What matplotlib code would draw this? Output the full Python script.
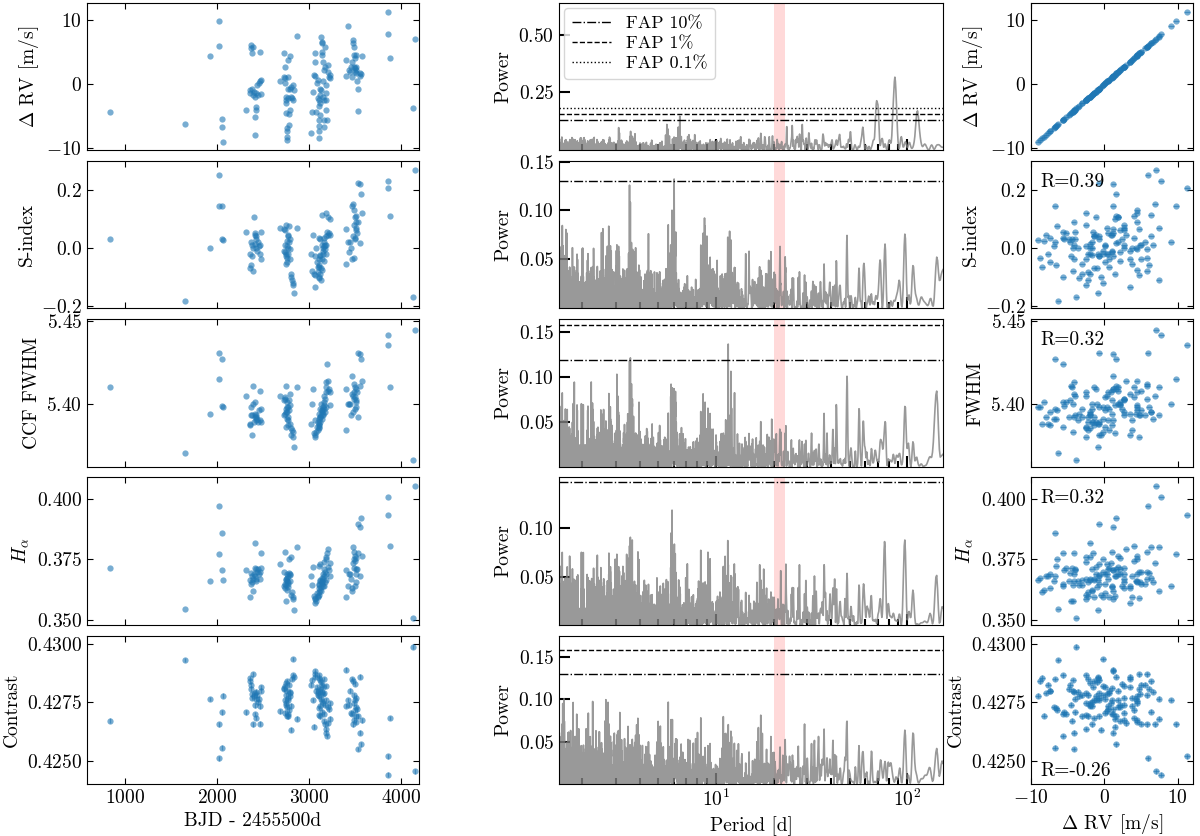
import numpy as np
import matplotlib
matplotlib.use("Agg")
import matplotlib.pyplot as plt

plt.rcParams['font.family'] = 'serif'
plt.rcParams['font.serif'] = ['cmr10']
plt.rcParams['mathtext.fontset'] = 'cm'
plt.rcParams['axes.formatter.use_mathtext'] = True
plt.rcParams['font.size'] = 14
plt.rcParams['axes.unicode_minus'] = True

# ---- data ---------------------------------------------------------------
bjd = [838, 1657, 1928, 2018, 2020, 2054, 2058, 2060,
       2310, 2354, 2361, 2372, 2373, 2374, 2383, 2390, 2391, 2397, 2408, 2415,
       2416, 2419, 2420, 2426, 2433, 2444, 2455, 2462, 2469, 2473, 2480,
       2679, 2722, 2723, 2733, 2734, 2740, 2744, 2745, 2751, 2752, 2757, 2758,
       2759, 2760, 2768, 2769, 2773, 2774, 2780, 2781, 2787, 2788, 2794, 2805,
       2806, 2816, 2823, 2824, 2834, 2870,
       3014, 3029, 3040, 3047, 3058, 3059, 3065, 3076, 3083, 3094, 3095, 3101,
       3102, 3105, 3106, 3107, 3108, 3112, 3113, 3119, 3120, 3130, 3131, 3137,
       3141, 3142, 3143, 3148, 3149, 3150, 3155, 3156, 3157, 3158, 3166, 3167,
       3177, 3178, 3184, 3185, 3191, 3202, 3203, 3209, 3220, 3227,
       3401, 3402, 3419, 3430, 3437, 3455, 3466, 3467, 3473, 3474, 3480, 3481,
       3484, 3491, 3492, 3493, 3502, 3503, 3509, 3510, 3516, 3527, 3528, 3545,
       3552, 3563, 3570,
       3852, 3855, 3877, 4123, 4152]

rv = [-4.4, -6.25, 4.3, 9.8, 5.9, -6.7, -5.5, -9.0,
      -4.0, -0.9, -1.35, 6.1, 5.6, 4.9, -0.7, 5.8, -1.7, -1.2, -2.0, -5.2,
      -8.0, -1.45, -4.0, -3.6, -0.15, -1.7, 0.1, 0.5, 5.05, 0.7, -1.6,
      0.4, 4.8, 1.1, 2.7, 1.0, 0.1, -2.0, -3.0, -2.5, -4.6, -7.4, -6.9,
      -8.2, -8.75, 3.75, 1.1, -0.7, -2.2, -4.7, -6.4, 4.4, -4.1, -0.7, -2.0,
      -0.4, -2.2, -0.15, -2.5, -0.9, 7.5,
      -7.7, -4.3, -1.2, 1.4, 4.8, 3.5, 1.25, -4.3, 0.1, 0.6, -2.2, -2.5,
      -5.6, -6.6, -7.4, -8.5, -3.5, -0.7, -4.8, -1.7, -3.0, 7.4, -1.0, 6.6,
      6.35, 5.05, 4.5, 3.5, 0.4, -2.0, 2.2, -2.5, -5.6, -6.7, 2.7, 5.8,
      -0.15, -1.45, -2.5, -4.1, -5.6, 3.0, 1.9, 1.15, 1.4, 0.9,
      1.25, 3.75, 9.1, 2.2, 1.9, 2.7, 3.5, 1.15, 6.9, 6.35, 5.8, 4.5,
      2.7, 2.45, 1.9, 4.0, 4.5, 2.2, 1.65, 2.7, 0.5, -0.7, -4.2, 1.65,
      1.25, 1.55, 4.4,
      11.3, 7.75, 4.1, -3.8, 7.1]

sindex = [0.03, -0.185, 0.0, 0.146, 0.25, 0.146, 0.029, 0.026,
          0.055, -0.02, -0.07, -0.06, 0.02, 0.01, -0.03, -0.08, 0.0, 0.105, 0.012, 0.05,
          0.045, 0.04, 0.03, 0.0, -0.01, 0.02, 0.005, -0.02, 0.008, -0.04, 0.055,
          0.07, 0.065, -0.01, 0.06, -0.015, 0.01, -0.02, -0.055, 0.08, -0.03, -0.05, 0.005,
          0.025, -0.035, 0.0, 0.045, 0.04, -0.02, 0.02, 0.075, -0.005, -0.04, 0.03, -0.09,
          -0.1, -0.11, -0.12, -0.13, -0.155, 0.07,
          -0.02, -0.08, 0.045, -0.09, -0.095, -0.135, -0.03, 0.0, -0.05, -0.065, -0.085, -0.04,
          -0.1, -0.06, 0.035, -0.065, -0.105, -0.03, 0.03, -0.025, -0.09, -0.11, -0.07, 0.01,
          0.115, -0.04, -0.075, -0.01, -0.02, 0.0, -0.045, 0.005, 0.035, 0.02, 0.01, -0.005,
          -0.02, 0.04, 0.12, 0.01, 0.055, 0.045, 0.105, 0.05, 0.1, 0.045,
          0.065, -0.055, 0.02, -0.015, 0.02, 0.0, -0.04, 0.145, 0.15, 0.04, -0.035, 0.13,
          0.08, 0.03, 0.105, 0.035, 0.09, 0.06, 0.11, 0.07, 0.05, 0.225, 0.09, 0.015,
          0.22, 0.185, 0.12,
          0.205, 0.23, 0.11, -0.17, 0.27]

fwhm = [5.410, 5.370, 5.394, 5.415, 5.431, 5.427, 5.3986, 5.3978,
        5.405, 5.388, 5.387, 5.398, 5.393, 5.393, 5.381, 5.411, 5.400, 5.389, 5.394, 5.401,
        5.392, 5.392, 5.393, 5.390, 5.391, 5.389, 5.396, 5.390, 5.408, 5.397, 5.389,
        5.405, 5.393, 5.402, 5.403, 5.394, 5.404, 5.395, 5.397, 5.386, 5.411, 5.395, 5.391,
        5.401, 5.398, 5.390, 5.387, 5.398, 5.392, 5.402, 5.396, 5.399, 5.406, 5.388, 5.385,
        5.381, 5.384, 5.383, 5.380, 5.374, 5.410,
        5.388, 5.400, 5.409, 5.382, 5.380, 5.381, 5.390, 5.383, 5.386, 5.384, 5.389, 5.385,
        5.386, 5.391, 5.387, 5.388, 5.394, 5.389, 5.392, 5.397, 5.392, 5.393, 5.400, 5.391,
        5.395, 5.396, 5.396, 5.394, 5.398, 5.393, 5.399, 5.405, 5.401, 5.397, 5.395, 5.403,
        5.398, 5.410, 5.407, 5.413, 5.424, 5.414, 5.408, 5.409, 5.399, 5.407,
        5.409, 5.384, 5.400, 5.400, 5.400, 5.393, 5.406, 5.417, 5.405, 5.395, 5.412, 5.407,
        5.403, 5.397, 5.410, 5.404, 5.398, 5.401, 5.409, 5.402, 5.407, 5.431, 5.392, 5.411,
        5.430, 5.427, 5.414,
        5.436, 5.442, 5.410, 5.366, 5.445]

halpha = [0.3716, 0.3544, 0.3661, 0.3771, 0.3973, 0.3860, 0.3706, 0.3665,
          0.3705, 0.3665, 0.3595, 0.3695, 0.3650, 0.3655, 0.3680, 0.3670, 0.3620, 0.3690, 0.3820, 0.3715,
          0.3680, 0.3670, 0.3710, 0.3660, 0.3700, 0.3710, 0.3690, 0.3670, 0.3700, 0.3715, 0.3775,
          0.3730, 0.3700, 0.3640, 0.3630, 0.3780, 0.3650, 0.3665, 0.3645, 0.3670, 0.3580, 0.3690, 0.3660,
          0.3625, 0.3675, 0.3680, 0.3635, 0.3650, 0.3655, 0.3695, 0.3750, 0.3690, 0.3660, 0.3685, 0.3760,
          0.3605, 0.3615, 0.3595, 0.3585, 0.3540, 0.3800,
          0.3680, 0.3645, 0.3720, 0.3600, 0.3590, 0.3570, 0.3585, 0.3580, 0.3610, 0.3595, 0.3600, 0.3605,
          0.3650, 0.3725, 0.3630, 0.3615, 0.3645, 0.3730, 0.3660, 0.3625, 0.3665, 0.3620, 0.3635, 0.3655,
          0.3675, 0.3650, 0.3660, 0.3640, 0.3690, 0.3670, 0.3710, 0.3740, 0.3640, 0.3680, 0.3655, 0.3700,
          0.3750, 0.3665, 0.3760, 0.3690, 0.3775, 0.3795, 0.3720, 0.3705, 0.3680, 0.3735,
          0.3705, 0.3595, 0.3640, 0.3690, 0.3690, 0.3670, 0.3630, 0.3620, 0.3735, 0.3800, 0.3780, 0.3750,
          0.3715, 0.3640, 0.3765, 0.3745, 0.3655, 0.3755, 0.3710, 0.3690, 0.3710, 0.3895, 0.3775, 0.3680,
          0.3885, 0.3920, 0.3765,
          0.3935, 0.4010, 0.3805, 0.3510, 0.4055]

contrast = [0.42671, 0.42931, 0.42764, 0.42656, 0.42510, 0.42556, 0.42707, 0.42779,
            0.42707, 0.42854, 0.42840, 0.42808, 0.42825, 0.42785, 0.42770, 0.42870, 0.42655, 0.42778, 0.42737, 0.42700,
            0.42790, 0.42683, 0.42765, 0.42795, 0.42780, 0.42750, 0.42765, 0.42733, 0.42658, 0.42800, 0.42815,
            0.42711, 0.42805, 0.42810, 0.42820, 0.42760, 0.42705, 0.42832, 0.42780, 0.42745, 0.42740, 0.42800, 0.42730,
            0.42693, 0.42840, 0.42770, 0.42700, 0.42760, 0.42690, 0.42825, 0.42718, 0.42775, 0.42795, 0.42790, 0.42735,
            0.42633, 0.42850, 0.42935, 0.42866, 0.42858, 0.42680,
            0.42825, 0.42845, 0.42760, 0.42645, 0.42870, 0.42860, 0.42882, 0.42800, 0.42815, 0.42790, 0.42780, 0.42695,
            0.42865, 0.42725, 0.42800, 0.42855, 0.42775, 0.42845, 0.42805, 0.42735, 0.42690, 0.42765, 0.42835, 0.42795,
            0.42710, 0.42825, 0.42755, 0.42815, 0.42785, 0.42745, 0.42670, 0.42790, 0.42700, 0.42850, 0.42740, 0.42655,
            0.42820, 0.42760, 0.42635, 0.42620, 0.42605, 0.42660, 0.42730, 0.42720, 0.42680, 0.42745,
            0.42890, 0.42735, 0.42760, 0.42740, 0.42800, 0.42705, 0.42850, 0.42700, 0.42655, 0.42840, 0.42780, 0.42745,
            0.42675, 0.42830, 0.42760, 0.42715, 0.42665, 0.42730, 0.42690, 0.42770, 0.42720, 0.42690, 0.42550, 0.42860,
            0.42620, 0.42570, 0.42673,
            0.42518, 0.42440, 0.42683, 0.42988, 0.42454]

rv_err = 0.4
contrast_err = 0.0001

left_labels = [r'$\Delta$ RV [m/s]', 'S-index', 'CCF FWHM', r'$H_\alpha$', 'Contrast']
right_labels = [r'$\Delta$ RV [m/s]', 'S-index', 'FWHM', r'$H_\alpha$', 'Contrast']
r_labels = [None, 'R=0.39', 'R=0.32', 'R=0.32', 'R=-0.26']
ylims = [(-10.3, 12.65), (-0.208, 0.30), (5.3616, 5.4515), (0.3479, 0.4091), (0.4240, 0.43034)]
yticks = [[-10, 0, 10], [-0.2, 0.0, 0.2], [5.40, 5.45], [0.350, 0.375, 0.400],
          [0.4250, 0.4275, 0.4300]]

# false alarm levels (10%, 1%, 0.1%) and power axis tops per panel
fap = [[0.130, 0.157, 0.183], [0.130, 0.157, 0.183], [0.119, 0.157, 0.183],
       [0.148, 0.180, 0.210], [0.130, 0.159, 0.185]]
pow_top = [0.639, 0.1507, 0.164, 0.153, 0.175]
pow_ticks = [[0.25, 0.50], [0.05, 0.10, 0.15], [0.05, 0.10, 0.15], [0.05, 0.10],
             [0.05, 0.10, 0.15]]
band = (20.1, 23.0)
pmin, pmax = 1.51, 154.0


def lomb_scargle(t, y, freq):
    y = y - y.mean()
    w = 2 * np.pi * freq[:, None]
    tau = np.arctan2(np.sin(2 * w * t).sum(1), np.cos(2 * w * t).sum(1)) / (2 * w[:, 0])
    arg = w * (t[None, :] - tau[:, None])
    c, s = np.cos(arg), np.sin(arg)
    p = (y * c).sum(1) ** 2 / (c * c).sum(1) + (y * s).sum(1) ** 2 / (s * s).sum(1)
    return p / (y * y).sum()


t = np.array(bjd, float)
series = [np.array(v, float) for v in (rv, sindex, fwhm, halpha, contrast)]
rva = series[0]
freq = np.linspace(1 / pmax, 1 / pmin, 9000)

fig = plt.figure(figsize=(12, 8.36), dpi=100)
W, H = 1200.0, 836.0
rows = [(3, 150), (161, 308), (319, 467), (477, 625), (636, 784)]
cols = [(87, 419), (559, 943), (1031, 1193)]
blue = '#1f77b4'

for i, (ytop, ybot) in enumerate(rows):
    axs = [fig.add_axes([x0 / W, 1 - ybot / H, (x1 - x0) / W, (ybot - ytop) / H])
           for x0, x1 in cols]
    y = series[i]
    yerr = contrast_err if i == 4 else None

    # time series
    ax = axs[0]
    ax.errorbar(t, y, yerr=yerr, fmt='o', ms=4.5, color=blue, alpha=0.6, mew=0,
                elinewidth=1)
    ax.set_xlim(590, 4190)
    ax.set_xticks([1000, 2000, 3000, 4000])
    ax.set_ylim(*ylims[i])
    ax.set_yticks(yticks[i])
    ax.set_ylabel(left_labels[i])
    ax.tick_params(direction='in', top=True, right=True, length=4, width=0.8)
    if i < 4:
        ax.tick_params(labelbottom=False)
    else:
        ax.set_xlabel('BJD - 2455500d')

    # periodogram
    ax = axs[1]
    pw = lomb_scargle(t, y, freq)
    ax.plot(1 / freq, pw, color='grey', lw=1.2, alpha=0.8)
    ax.axvspan(*band, color='red', alpha=0.15, lw=0)
    l1 = ax.axhline(fap[i][0], color='k', ls='-.', lw=1)
    l2 = ax.axhline(fap[i][1], color='k', ls='--', lw=1)
    l3 = ax.axhline(fap[i][2], color='k', ls=':', lw=1)
    ax.set_xscale('log')
    ax.set_xlim(pmin, pmax)
    ax.set_ylim(0, pow_top[i])
    ax.set_yticks(pow_ticks[i])
    ax.set_ylabel('Power')
    ax.tick_params(which='major', direction='in', length=8, width=1.5)
    ax.tick_params(axis='x', which='minor', direction='in', length=4, width=1.5)
    if i == 0:
        ax.legend([l1, l2, l3], ['FAP 10%', 'FAP 1%', 'FAP 0.1%'], loc='upper left',
                  fontsize=13, handlelength=2.2, borderaxespad=0.3, labelspacing=0.25)
    if i < 4:
        ax.tick_params(labelbottom=False)
    else:
        ax.set_xlabel('Period [d]')

    # correlation with RV
    ax = axs[2]
    ax.errorbar(rva, y, xerr=rv_err, yerr=yerr, fmt='o', ms=4.5, color=blue,
                alpha=0.6, mew=0, elinewidth=1)
    ax.set_xlim(-10, 12.1)
    ax.set_xticks([-10, 0, 10])
    ax.set_ylim(*ylims[i])
    ax.set_yticks(yticks[i])
    ax.set_ylabel(right_labels[i])
    ax.tick_params(direction='in', top=True, right=True, length=4, width=0.8)
    if r_labels[i]:
        ypos = 0.09 if i == 4 else 0.86
        ax.text(0.06, ypos, r_labels[i], transform=ax.transAxes, va='center',
                fontsize=14)
    if i < 4:
        ax.tick_params(labelbottom=False)
    else:
        ax.set_xlabel(r'$\Delta$ RV [m/s]')

fig.savefig('out.png', dpi=100)
